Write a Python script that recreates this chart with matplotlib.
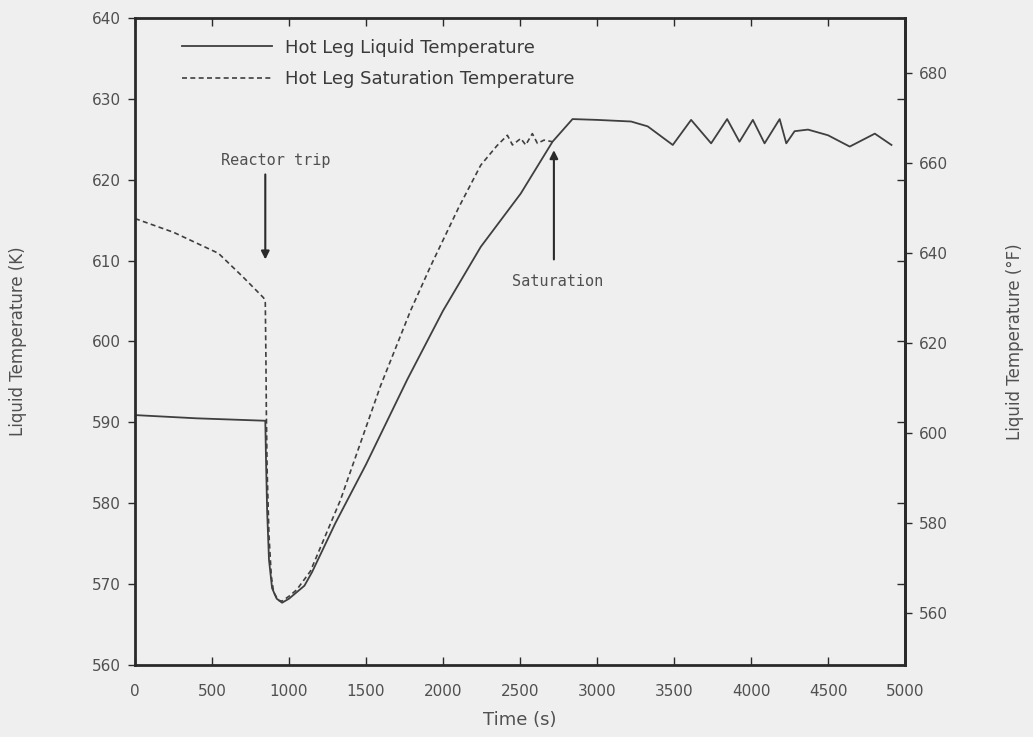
import matplotlib
matplotlib.use("Agg")
import matplotlib.pyplot as plt

# Hot leg liquid temperature (K) vs time (s)
liquid_time = [0, 400, 846, 850, 858, 870, 890, 920, 955, 1000, 1100, 1150,
               1300, 1500, 1768, 2000, 2245, 2505, 2711, 2841, 3000, 3221,
               3329, 3492, 3611, 3741, 3845, 3925, 4012, 4088, 4186, 4229,
               4283, 4370, 4500, 4641, 4804, 4912]
liquid_temp = [590.9, 590.5, 590.2, 586.0, 579.0, 573.0, 569.5, 568.2, 567.7,
               568.2, 569.8, 571.5, 577.5, 584.8, 595.3, 603.8, 611.7, 618.3,
               624.7, 627.5, 627.4, 627.2, 626.6, 624.3, 627.4, 624.5, 627.5,
               624.7, 627.4, 624.5, 627.5, 624.5, 626.0, 626.2, 625.5, 624.1,
               625.7, 624.3]

# Hot leg saturation temperature (K) vs time (s)
sat_time = [0, 250, 542, 700, 835, 846, 850, 853, 858, 870, 885, 900, 930,
            955, 1000, 1050, 1139, 1334, 1594, 1789, 1919, 2100, 2245, 2350,
            2418, 2451, 2505, 2537, 2580, 2613, 2656, 2711]
sat_temp = [615.2, 613.5, 610.9, 608.0, 605.4, 604.8, 598.0, 591.0, 584.0,
            576.0, 571.0, 569.0, 568.0, 567.9, 568.5, 569.3, 571.6, 580.4,
            594.5, 603.8, 609.3, 616.5, 621.8, 624.2, 625.5, 624.3, 625.1,
            624.3, 625.7, 624.5, 624.9, 624.7]

x_ticks = [0, 500, 1000, 1500, 2000, 2500, 3000, 3500, 4000, 4500, 5000]
k_ticks = [560, 570, 580, 590, 600, 610, 620, 630, 640]
f_ticks = [560, 580, 600, 620, 640, 660, 680]

bg = "#efefef"
ink = "#3f3f3f"
txt = "#505050"

fig = plt.figure(figsize=(10.33, 7.37), dpi=100, facecolor=bg)
ax = fig.add_axes([0.1307, 0.0977, 0.7454, 0.8779], facecolor=bg)

ax.plot(liquid_time, liquid_temp, color=ink, lw=1.3,
        label="Hot Leg Liquid Temperature")
ax.plot(sat_time, sat_temp, color=ink, lw=1.2, linestyle=(0, (3, 2)),
        label="Hot Leg Saturation Temperature")

ax.set_xlim(0, 5000)
ax.set_ylim(560, 640)
ax.set_xticks(x_ticks)
ax.set_yticks(k_ticks)

for s in ax.spines.values():
    s.set_linewidth(2.0)
    s.set_color("#2a2a2a")

ax.tick_params(axis="x", direction="in", top=True, length=6, width=1,
               colors="#2a2a2a", labelcolor=txt, labelsize=11, pad=14)
ax.tick_params(axis="y", direction="out", length=5, width=1,
               colors="#2a2a2a", labelcolor=txt, labelsize=11, pad=5)

# inward Kelvin ticks mirrored on the right spine
ax_kr = ax.secondary_yaxis("right")
ax_kr.set_yticks(k_ticks)
ax_kr.tick_params(direction="in", length=6, width=1, colors="#2a2a2a",
                  labelright=False)
ax_kr.spines["right"].set_visible(False)

# Fahrenheit scale on the right
ax_f = ax.secondary_yaxis("right",
                          functions=(lambda k: k * 9 / 5 - 459.67,
                                     lambda f: (f + 459.67) * 5 / 9))
ax_f.set_yticks(f_ticks)
ax_f.tick_params(direction="out", length=5, width=1, colors="#2a2a2a",
                 labelcolor=txt, labelsize=11, pad=5)
ax_f.spines["right"].set_linewidth(2.0)
ax_f.spines["right"].set_color("#2a2a2a")
ax_f.set_ylabel("Liquid Temperature (°F)", fontsize=12, color=txt,
                labelpad=42)

ax.set_ylabel("Liquid Temperature (K)", fontsize=12, color=txt, labelpad=47)
ax.set_xlabel("Time (s)", fontsize=13, color=txt, labelpad=8)

leg = ax.legend(loc="upper left", bbox_to_anchor=(0.04, 0.993),
                frameon=False, fontsize=13, handlelength=5.0,
                handletextpad=0.7, labelspacing=0.75, labelcolor="#3a3a3a")

mono = "DejaVu Sans Mono"
ax.annotate("", xy=(846, 609.8), xytext=(846, 621.0),
            arrowprops=dict(arrowstyle="-|>", color="#2a2a2a", lw=1.5,
                            mutation_scale=12))
ax.text(911, 622.4, "Reactor trip", family=mono, fontsize=11, color=txt,
        ha="center", va="center")

ax.annotate("", xy=(2720, 624.0), xytext=(2720, 609.8),
            arrowprops=dict(arrowstyle="-|>", color="#2a2a2a", lw=1.5,
                            mutation_scale=12))
ax.text(2746, 607.4, "Saturation", family=mono, fontsize=11, color=txt,
        ha="center", va="center")

fig.savefig("out.png", dpi=100, facecolor=bg)
